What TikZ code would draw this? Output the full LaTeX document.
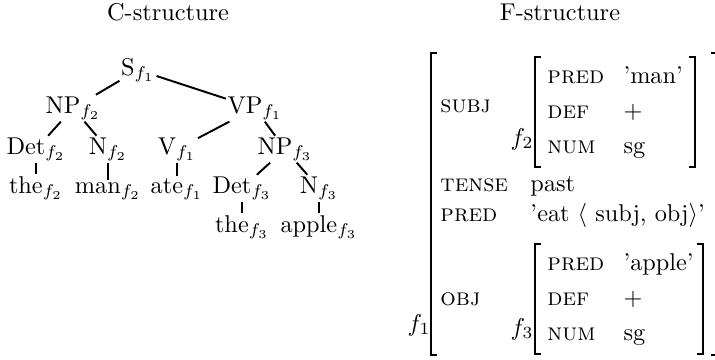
\documentclass[tikz,border=0pt]{standalone}
\usepackage{amsmath}

\begin{document}
\begin{tikzpicture}[x=0.4115pt,y=-0.4115pt,
  word/.style={anchor=base,inner sep=0.5pt},
  feat/.style={anchor=base west,inner sep=0pt,font=\scshape},
  val/.style={anchor=base west,inner sep=0pt},
  edge/.style={line width=0.8pt},
  brk/.style={line width=0.75pt}]

\useasboundingbox (0,0) rectangle (715,359);

\node[word] (ctitle) at (168,20) {C-structure};
\node[word] (ftitle) at (560,20) {F-structure};

\node[word] (S) at (138,75) {S$_{f_1}$};
\node[word] (NPa) at (73,113) {NP$_{f_2}$};
\node[word] (VP) at (255,113) {VP$_{f_1}$};
\node[word] (Deta) at (36,154) {Det$_{f_2}$};
\node[word] (Na) at (108,154) {N$_{f_2}$};
\node[word] (V) at (177,154) {V$_{f_1}$};
\node[word] (NPb) at (285,154) {NP$_{f_3}$};
\node[word] (thea) at (36,193) {the$_{f_2}$};
\node[word] (man) at (108,193) {man$_{f_2}$};
\node[word] (ate) at (177,193) {ate$_{f_1}$};
\node[word] (Detb) at (242,193) {Det$_{f_3}$};
\node[word] (Nb) at (319,193) {N$_{f_3}$};
\node[word] (theb) at (242,232) {the$_{f_3}$};
\node[word] (apple) at (319,232) {apple$_{f_3}$};

\foreach \a/\b in {S/NPa,S/VP,NPa/Deta,NPa/Na,VP/V,VP/NPb,Deta/thea,Na/man,V/ate,NPb/Detb,NPb/Nb,Detb/theb,Nb/apple}
  \draw[edge] (\a) -- (\b);

\draw[brk] (437,53) -- (431,53) -- (431,355) -- (437,355);
\draw[brk] (711,53) -- (717,53) -- (717,355) -- (711,355);
\node[word] (fone) at (419,331) {$f_1$};

\node[feat] (subj) at (440,112) {subj};
\node[word] (ftwo) at (522,145) {$f_2$};
\draw[brk] (541,57) -- (535,57) -- (535,167) -- (541,167);
\draw[brk] (689,57) -- (695,57) -- (695,167) -- (689,167);
\node[feat] (preda) at (547,83) {pred};
\node[val] (vman) at (623,83) {'man'};
\node[feat] (defa) at (547,118) {def};
\node[val] (vplusa) at (623,118) {$+$};
\node[feat] (numa) at (547,153) {num};
\node[val] (vsga) at (623,153) {sg};

\node[feat] (tense) at (440,191) {tense};
\node[val] (vpast) at (530,191) {past};
\node[feat] (pred) at (440,221) {pred};
\node[val] (veat) at (530,221) {'eat $\langle$ subj, obj$\rangle$'};

\node[feat] (obj) at (440,305) {obj};
\node[word] (fthree) at (522,335) {$f_3$};
\draw[brk] (541,244) -- (535,244) -- (535,354) -- (541,354);
\draw[brk] (697,244) -- (703,244) -- (703,354) -- (697,354);
\node[feat] (predb) at (547,270) {pred};
\node[val] (vapple) at (623,270) {'apple'};
\node[feat] (defb) at (547,305) {def};
\node[val] (vplusb) at (623,305) {$+$};
\node[feat] (numb) at (547,340) {num};
\node[val] (vsgb) at (623,340) {sg};

\end{tikzpicture}
\end{document}
